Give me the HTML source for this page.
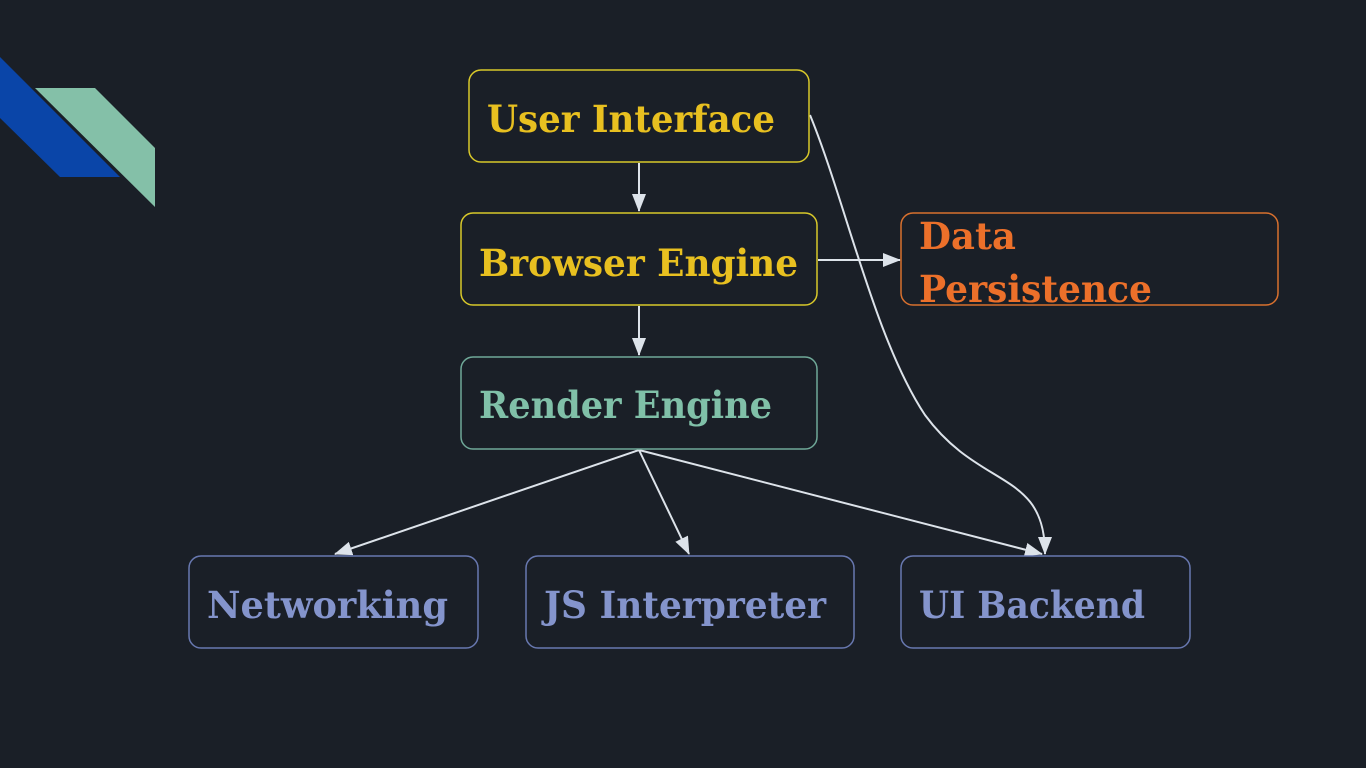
<!DOCTYPE html>
<html><head><meta charset="utf-8"><style>
html,body{margin:0;padding:0;background:#1a1f27;}
svg{display:block}
text{font-family:"DejaVu Serif","Liberation Serif",serif;font-weight:bold;font-size:37px}
</style></head><body>
<svg width="1366" height="768" viewBox="0 0 1366 768" xmlns="http://www.w3.org/2000/svg">
<rect width="1366" height="768" fill="#1a1f27"/>
<polygon points="0,57 120,177 60,177 0,118" fill="#0a45a8"/>
<polygon points="35,88 95,88 155,148 155,207" fill="#84c0a8"/>
<defs>
<marker id="b" markerWidth="18" markerHeight="14" refX="17" refY="7" orient="auto" markerUnits="userSpaceOnUse"><path d="M0,0 L18,7 L0,14 z" fill="#dde3ea"/></marker></defs>
<g stroke="#dde3ea" stroke-width="2" fill="none">
<line x1="639" y1="163" x2="639" y2="211" marker-end="url(#b)"/>
<line x1="639" y1="306" x2="639" y2="355" marker-end="url(#b)"/>
<line x1="818" y1="260" x2="900" y2="260" marker-end="url(#b)"/>
<line x1="639" y1="450" x2="335" y2="554" marker-end="url(#b)"/>
<line x1="639" y1="450" x2="689" y2="554" marker-end="url(#b)"/>
<line x1="639" y1="450" x2="1042" y2="554" marker-end="url(#b)"/>
<path d="M810,115 C845,200 875,340 925,415 C980,490 1045,470 1045,554" marker-end="url(#b)"/>
</g>
<g fill="#1a1f27" stroke-width="1.5">
<rect x="469" y="70" width="340" height="92" rx="12" stroke="#d8c82a"/>
<rect x="461" y="213" width="356" height="92" rx="12" stroke="#d8c82a"/>
<rect x="901" y="213" width="377" height="92" rx="12" stroke="#d8702e"/>
<rect x="461" y="357" width="356" height="92" rx="12" stroke="#6fa898"/>
<rect x="189" y="556" width="289" height="92" rx="12" stroke="#6878b0"/>
<rect x="526" y="556" width="328" height="92" rx="12" stroke="#6878b0"/>
<rect x="901" y="556" width="289" height="92" rx="12" stroke="#6878b0"/>
</g>
<text x="487" y="132" fill="#e8c020" textLength="288" lengthAdjust="spacingAndGlyphs">User Interface</text>
<text x="479" y="276" fill="#e8c020" textLength="319" lengthAdjust="spacingAndGlyphs">Browser Engine</text>
<text x="919" y="249" fill="#ec702a" textLength="97" lengthAdjust="spacingAndGlyphs">Data</text>
<text x="919" y="302" fill="#ec702a" textLength="233" lengthAdjust="spacingAndGlyphs">Persistence</text>
<text x="479" y="418" fill="#80c0a8" textLength="293" lengthAdjust="spacingAndGlyphs">Render Engine</text>
<text x="207" y="618" fill="#8494cc" textLength="241" lengthAdjust="spacingAndGlyphs">Networking</text>
<text x="544" y="618" fill="#8494cc" textLength="282" lengthAdjust="spacingAndGlyphs">JS Interpreter</text>
<text x="919" y="618" fill="#8494cc" textLength="226" lengthAdjust="spacingAndGlyphs">UI Backend</text>
</svg>
</body></html>
